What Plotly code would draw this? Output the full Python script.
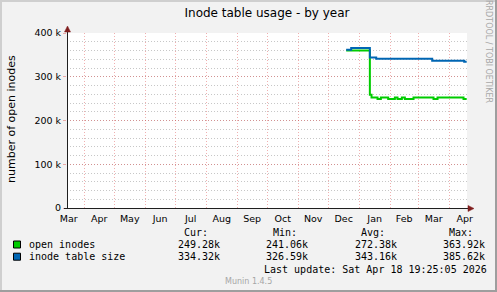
import plotly.graph_objects as go

# ---------------- data ----------------
green_dates = ["2025-12-19 00:00", "2026-01-11 16:00", "2026-01-13 08:00", "2026-01-19 08:00",
               "2026-01-22 16:00", "2026-01-30 00:00", "2026-02-05 16:00", "2026-02-08 08:00",
               "2026-02-12 16:00", "2026-02-15 16:00", "2026-02-24 08:00", "2026-03-16 08:00",
               "2026-03-20 08:00", "2026-04-15 08:00", "2026-04-18 12:00"]
green_vals = [360000, 259000, 252800, 249300,
              252800, 249300, 252800, 249300,
              252800, 249300, 252800, 249300,
              252800, 249300, 249300]

blue_dates = ["2025-12-19 00:00", "2025-12-24 00:00", "2026-01-11 16:00", "2026-01-18 00:00",
              "2026-03-15 00:00", "2026-04-16 00:00", "2026-04-18 12:00"]
blue_vals = [362000, 365500, 344000, 341000, 336800, 334300, 334300]

y_tickvals = [0, 100000, 200000, 300000, 400000]
y_ticktext = ["0", "100 k", "200 k", "300 k", "400 k"]

x_start = "2025-03-14 19:25:05"
x_end = "2026-04-18 19:25:05"

series_names = ["open inodes", "inode table size"]
series_colors = ["#00CC00", "#0066B3"]
cur_vals = ["249.28k", "334.32k"]
min_vals = ["241.06k", "326.59k"]
avg_vals = ["272.38k", "343.16k"]
max_vals = ["363.92k", "385.62k"]

title_text = "Inode table usage - by year"
ylabel_text = "number of open inodes"
last_update = "Last update: Sat Apr 18 19:25:05 2026"

# ---------------- geometry ----------------
W, H = 497, 292
L, R, T, B = 67, 467, 33, 208
PW, PH = R - L, B - T


def px(x):
    return (x - L) / PW


def py(y):
    return (B - y) / PH


BG = "#F2F2F2"
SHADEA = "#CFCFCF"
SHADEB = "#9E9E9E"
GRID = "rgba(143,143,143,0.5)"
MGRID = "rgba(222,79,79,0.45)"
ARROW = "#801F1F"
AXIS = "#1F1F1F"
SANS = "DejaVu Sans"
MONO = "DejaVu Sans Mono"

fig = go.Figure()
fig.add_trace(go.Scatter(x=green_dates, y=green_vals, mode="lines", line_shape="hv",
                         line=dict(color=series_colors[0], width=2), name=series_names[0]))
fig.add_trace(go.Scatter(x=blue_dates, y=blue_vals, mode="lines", line_shape="hv",
                         line=dict(color=series_colors[1], width=2), name=series_names[1]))

shapes = []
# frame
shapes.append(dict(type="rect", xref="paper", yref="paper", x0=px(0), x1=px(2), y0=py(H), y1=py(0),
                   fillcolor=SHADEA, line=dict(width=0), layer="above"))
shapes.append(dict(type="rect", xref="paper", yref="paper", x0=px(0), x1=px(W), y0=py(2), y1=py(0),
                   fillcolor=SHADEA, line=dict(width=0), layer="above"))
shapes.append(dict(type="rect", xref="paper", yref="paper", x0=px(W - 2), x1=px(W), y0=py(H), y1=py(0),
                   fillcolor=SHADEB, line=dict(width=0), layer="above"))
shapes.append(dict(type="rect", xref="paper", yref="paper", x0=px(0), x1=px(W), y0=py(H), y1=py(H - 2),
                   fillcolor=SHADEB, line=dict(width=0), layer="above"))
# axes
shapes.append(dict(type="line", xref="paper", yref="paper", x0=px(L + 0.5), x1=px(L + 0.5),
                   y0=py(B), y1=py(T - 3), line=dict(color=AXIS, width=1), layer="above"))
shapes.append(dict(type="line", xref="paper", yref="paper", x0=px(L - 3), x1=px(R + 3),
                   y0=py(B + 0.5), y1=py(B + 0.5), line=dict(color=AXIS, width=1), layer="above"))
# arrows
shapes.append(dict(type="path", xref="paper", yref="paper",
                   path="M %f %f L %f %f L %f %f Z" % (px(L + 0.5), py(T - 7), px(L - 2.5), py(T - 1),
                                                     px(L + 3.5), py(T - 1)),
                   fillcolor=ARROW, line=dict(color=ARROW, width=0.5), layer="above"))
shapes.append(dict(type="path", xref="paper", yref="paper",
                   path="M %f %f L %f %f L %f %f Z" % (px(R + 7), py(B + 0.5), px(R + 1), py(B - 2.5),
                                                     px(R + 1), py(B + 3.5)),
                   fillcolor=ARROW, line=dict(color=ARROW, width=0.5), layer="above"))
# legend colour boxes
row_y = [244.5, 256.7]
for c, yy in zip(series_colors, row_y):
    shapes.append(dict(type="rect", xref="paper", yref="paper", x0=px(13.5), x1=px(20.5),
                       y0=py(yy + 3.5), y1=py(yy - 3.5), fillcolor=c,
                       line=dict(color="#000000", width=1), layer="above"))

ann = []


def txt(x, y, s, size=10, font=MONO, color="#000000", xanchor="left", angle=0):
    ann.append(dict(x=px(x), y=py(y), xref="paper", yref="paper", text=s, showarrow=False,
                    xanchor=xanchor, yanchor="middle", textangle=angle,
                    font=dict(family=font, size=size, color=color)))


txt(11, 119, ylabel_text, size=11, font=SANS, xanchor="center", angle=-90)
txt(489, 51, "RRDTOOL / TOBI OETIKER", size=8, font=SANS, color="#A8A8A8", xanchor="center", angle=90)

txt(181.7, 232.7, "Cur:")
txt(270.7, 232.7, "Min:")
txt(359.0, 232.7, "Avg:")
txt(447.0, 232.7, "Max:")
for i in range(2):
    yy = row_y[i]
    txt(26.7, yy, series_names[i])
    txt(175.7, yy, cur_vals[i])
    txt(264.3, yy, min_vals[i])
    txt(352.7, yy, avg_vals[i])
    txt(441.0, yy, max_vals[i])
txt(261.7, 269, last_update)
txt(248.5, 281, "Munin 1.4.5", size=8, font=SANS, color="#A6A6A6", xanchor="center")

fig.update_layout(
    width=W, height=H,
    margin=dict(l=L, r=W - R, t=T, b=H - B, pad=0),
    paper_bgcolor=BG, plot_bgcolor="#FFFFFF",
    showlegend=False,
    title=dict(text=title_text, x=0.5, xref="paper", xanchor="center",
               y=1 - 13 / H, yref="container", yanchor="middle",
               font=dict(family=SANS, size=12, color="#000000")),
    shapes=shapes, annotations=ann,
    font=dict(family=SANS, size=9.5, color="#000000"),
)
fig.update_xaxes(type="date", range=[x_start, x_end], dtick="M1", tick0="2025-03-01",
                 tickformat="%b", ticklabelmode="period", showgrid=True, gridcolor=MGRID,
                 griddash="1px,2px", gridwidth=1, ticks="", showline=False, zeroline=False,
                 ticklabelstandoff=3,
                 tickfont=dict(family=SANS, size=9.5))
fig.update_yaxes(range=[0, 400000], tickvals=y_tickvals, ticktext=y_ticktext, showgrid=True,
                 gridcolor=MGRID, griddash="1px,2px", gridwidth=1, ticks="outside", ticklen=3,
                 tickcolor=MGRID, showline=False, zeroline=False,
                 tickfont=dict(family=SANS, size=9.5),
                 minor=dict(dtick=20000, tick0=0, showgrid=True, gridcolor=GRID, griddash="1px,2px",
                            gridwidth=1, ticks=""))

fig.write_html("out.html")
